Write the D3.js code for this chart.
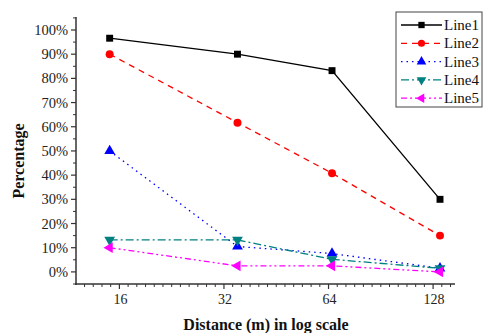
<!DOCTYPE html>
<html>
<head>
<meta charset="utf-8">
<script src="https://cdn.jsdelivr.net/npm/d3@7"></script>
<style>
  html, body { margin: 0; padding: 0; background: #fff; }
  svg { display: block; }
  svg text { font-family: "Times New Roman", "Liberation Serif", Tinos, Times, serif; }
</style>
</head>
<body>
<svg id="chart" width="484" height="333"></svg>
<script>
// ---- data ----
const distances = [15, 35, 65.5, 134];
const seriesNames = ["Line1", "Line2", "Line3", "Line4", "Line5"];
const line1 = [96.6, 90.0, 83.2, 30.0];
const line2 = [90.0, 61.7, 40.8, 15.0];
const line3 = [50.0, 10.5, 7.6, 1.5];
const line4 = [13.2, 13.2, 5.2, 1.5];
const line5 = [10.0, 2.5, 2.5, 0.0];
const xTickValues = [16, 32, 64, 128];
const yTickValues = [0, 10, 20, 30, 40, 50, 60, 70, 80, 90, 100];

const seriesValues = [line1, line2, line3, line4, line5];
const colors = ["#000000", "#ff0000", "#0000ff", "#008080", "#ff00ff"];
const dashes = [null, "6,5", "1.5,4", "8,3,2,3", "6,3,2,3,2,3"];
const symbols = [d3.symbolSquare, d3.symbolCircle, "up", "down", "left"];

const svg = d3.select("#chart");
const x = d3.scaleLog().base(2).domain([12, 148]).range([76, 455]);
const y = d3.scaleLinear().domain([-5, 105]).range([284, 17.9]);

const axisColor = "#333";

// minor x ticks (12 per doubling)
const xMinor = [];
for (let k = -5; k <= 38; k++) {
  const v = 16 * Math.pow(2, k / 12);
  if (v >= 12 && v <= 148 && k % 12 !== 0) xMinor.push(v);
}
const yMinor = d3.range(-5, 106, 5).filter(v => v % 10 !== 0);

// x axis
const gx = svg.append("g").attr("transform", "translate(0,284)");
gx.append("line").attr("x1", 75).attr("x2", 455).attr("stroke", axisColor).attr("stroke-width", 1.5);
gx.selectAll("line.minor").data(xMinor).join("line").attr("class", "minor")
  .attr("x1", d => x(d)).attr("x2", d => x(d)).attr("y1", 0).attr("y2", 3)
  .attr("stroke", axisColor).attr("stroke-width", 1);
gx.selectAll("line.major").data(xTickValues).join("line").attr("class", "major")
  .attr("x1", d => x(d)).attr("x2", d => x(d)).attr("y1", 0).attr("y2", 5)
  .attr("stroke", axisColor).attr("stroke-width", 1.2);
gx.selectAll("text").data(xTickValues).join("text")
  .attr("x", d => x(d) + 1).attr("y", 20).attr("text-anchor", "middle")
  .attr("font-size", 14).attr("fill", "#222").text(d => d);

// y axis
const gy = svg.append("g").attr("transform", "translate(76,0)");
gy.append("line").attr("y1", 17).attr("y2", 285).attr("stroke", axisColor).attr("stroke-width", 1.5);
gy.selectAll("line.minor").data(yMinor).join("line").attr("class", "minor")
  .attr("y1", d => y(d)).attr("y2", d => y(d)).attr("x1", 0).attr("x2", -3)
  .attr("stroke", axisColor).attr("stroke-width", 1);
gy.selectAll("line.major").data(yTickValues).join("line").attr("class", "major")
  .attr("y1", d => y(d)).attr("y2", d => y(d)).attr("x1", 0).attr("x2", -5)
  .attr("stroke", axisColor).attr("stroke-width", 1.2);
gy.selectAll("text").data(yTickValues).join("text")
  .attr("x", -8).attr("y", d => y(d) + 5).attr("text-anchor", "end")
  .attr("font-size", 14.5).attr("fill", "#222").text(d => d + "%");

// axis titles
svg.append("text").attr("x", 266).attr("y", 330).attr("text-anchor", "middle")
  .attr("font-size", 16).attr("font-weight", "bold").attr("fill", "#111")
  .text("Distance (m) in log scale");
svg.append("text").attr("transform", "translate(24,161) rotate(-90)")
  .attr("text-anchor", "middle").attr("font-size", 16).attr("font-weight", "bold").attr("fill", "#111")
  .text("Percentage");

function markerPath(sym, size) {
  if (sym === "up" || sym === "down" || sym === "left") return d3.symbol(d3.symbolTriangle, size)();
  return d3.symbol(sym, size)();
}
function markerRot(sym) {
  if (sym === "down") return 180;
  if (sym === "left") return -90;
  return 0;
}
const markerSizes = [48, 50, 50, 50, 50];

const line = d3.line().x(d => x(d[0])).y(d => y(d[1]));
seriesValues.forEach((vals, i) => {
  const pts = distances.map((dv, j) => [dv, vals[j]]);
  svg.append("path").datum(pts).attr("d", line)
    .attr("fill", "none").attr("stroke", colors[i]).attr("stroke-width", 1.3)
    .attr("stroke-dasharray", dashes[i]);
});
seriesValues.forEach((vals, i) => {
  const pts = distances.map((dv, j) => [dv, vals[j]]);
  svg.append("g").selectAll("path").data(pts).join("path")
    .attr("d", markerPath(symbols[i], markerSizes[i]))
    .attr("transform", d => `translate(${x(d[0])},${y(d[1])}) rotate(${markerRot(symbols[i])})`)
    .attr("fill", colors[i]);
});

// legend
const lg = svg.append("g");
lg.append("rect").attr("x", 396).attr("y", 12).attr("width", 86).attr("height", 95)
  .attr("fill", "#fff").attr("stroke", "#444").attr("stroke-width", 1);
seriesNames.forEach((name, i) => {
  const cy = 25 + i * 18.3;
  lg.append("line").attr("x1", 401).attr("x2", 442).attr("y1", cy).attr("y2", cy)
    .attr("stroke", colors[i]).attr("stroke-width", 1.3).attr("stroke-dasharray", dashes[i]);
  lg.append("path").attr("d", markerPath(symbols[i], 40))
    .attr("transform", `translate(421.5,${cy}) rotate(${markerRot(symbols[i])})`)
    .attr("fill", colors[i]);
  lg.append("text").attr("x", 444).attr("y", cy + 5).attr("font-size", 15).attr("fill", "#111").text(name);
});
</script>
</body>
</html>
